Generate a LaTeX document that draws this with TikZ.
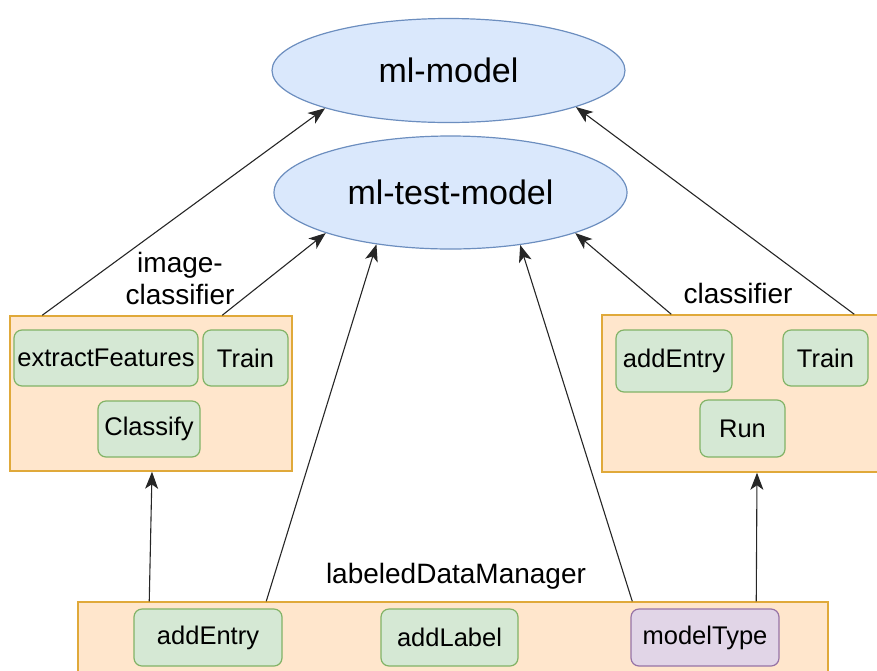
\documentclass[tikz,border=0pt]{standalone}
\usepackage{fontspec}
\setmainfont{Liberation Sans}
\usetikzlibrary{shapes.geometric,arrows.meta}

\definecolor{blueFill}{HTML}{DAE8FC}
\definecolor{blueLine}{HTML}{6C8EBF}
\definecolor{orangeFill}{HTML}{FFE6CC}
\definecolor{orangeLine}{HTML}{E0A93A}
\definecolor{greenFill}{HTML}{D5E8D4}
\definecolor{greenLine}{HTML}{82B366}
\definecolor{purpleFill}{HTML}{E1D5E7}
\definecolor{purpleLine}{HTML}{9673A6}

\tikzset{
  model/.style={ellipse, draw=blueLine, fill=blueFill, line width=1.2pt,
    inner sep=0pt, font=\fontsize{34}{39}\selectfont},
  container/.style={rectangle, draw=orangeLine, fill=orangeFill, line width=1.5pt,
    inner sep=0pt},
  method/.style={rectangle, rounded corners=8pt, draw=greenLine, fill=greenFill,
    line width=1.2pt, inner sep=0pt, font=\fontsize{25.5}{30}\selectfont},
  attr/.style={method, draw=purpleLine, fill=purpleFill},
  caption/.style={inner sep=0pt, align=center, font=\fontsize{28}{32}\selectfont},
  arr/.style={-{Stealth[length=17pt,width=13pt,inset=4.5pt]}, line width=1.1pt, black!85},
}

\begin{document}
\begin{tikzpicture}[x=1pt,y=-1pt]
\useasboundingbox (0,0) rectangle (877,670);

% services
\node[model, minimum width=353pt, minimum height=104pt] (mlm) at (448.5,70.5) {ml-model};
\node[model, minimum width=353pt, minimum height=113pt] (mltm) at (450.5,192.5) {ml-test-model};

% containers
\node[container, minimum width=282pt, minimum height=155pt] (ic) at (151,393.5) {};
\node[container, minimum width=278pt, minimum height=157pt] (cl) at (741,393.5) {};
\node[container, minimum width=750pt, minimum height=72pt] (ldm) at (453,638) {};

% container titles
\node[caption] (icT) at (180,278) {image-\\classifier};
\node[caption] (clT) at (738,293) {classifier};
\node[caption] (ldmT) at (456,576) {labeledDataManager};

% image-classifier methods
\node[method, minimum width=184pt, minimum height=56pt] (ef) at (106,358) {extractFeatures};
\node[method, minimum width=85pt, minimum height=56pt] (icTrain) at (245.5,358) {Train};
\node[method, minimum width=102pt, minimum height=56pt] (icClassify) at (149,429) {Classify};

% classifier methods
\node[method, minimum width=116pt, minimum height=62pt] (clAdd) at (674,361) {addEntry};
\node[method, minimum width=85pt, minimum height=56pt] (clTrain) at (825.5,358) {Train};
\node[method, minimum width=85pt, minimum height=57pt] (clRun) at (742.5,428.5) {Run};

% labeledDataManager members
\node[method, minimum width=148pt, minimum height=57pt] (ldmAdd) at (208,637.5) {addEntry};
\node[method, minimum width=137pt, minimum height=57pt] (ldmLabel) at (449.5,637.5) {addLabel};
\node[attr, minimum width=148pt, minimum height=57pt] (ldmType) at (705,637.5) {modelType};

% dependencies on the model services
\draw[arr] ([xshift=33pt]ic.north west) -- (mlm.197);
\draw[arr] ([xshift=213pt]ic.north west) -- (mltm.198);
\draw[arr] ([xshift=70pt]cl.north west) -- (mltm.-18.4);
\draw[arr] ([xshift=253pt]cl.north west) -- (mlm.-16.5);
\draw[arr] ([xshift=189pt]ldm.north west) -- (mltm.215.8);
\draw[arr] ([xshift=555pt]ldm.north west) -- (mltm.-37.6);

% dependencies on the classifiers
\draw[arr] ([xshift=72pt]ldm.north west) -- ([xshift=1pt]ic.south);
\draw[arr] ([xshift=679pt]ldm.north west) -- ([xshift=16pt]cl.south);
\end{tikzpicture}
\end{document}
